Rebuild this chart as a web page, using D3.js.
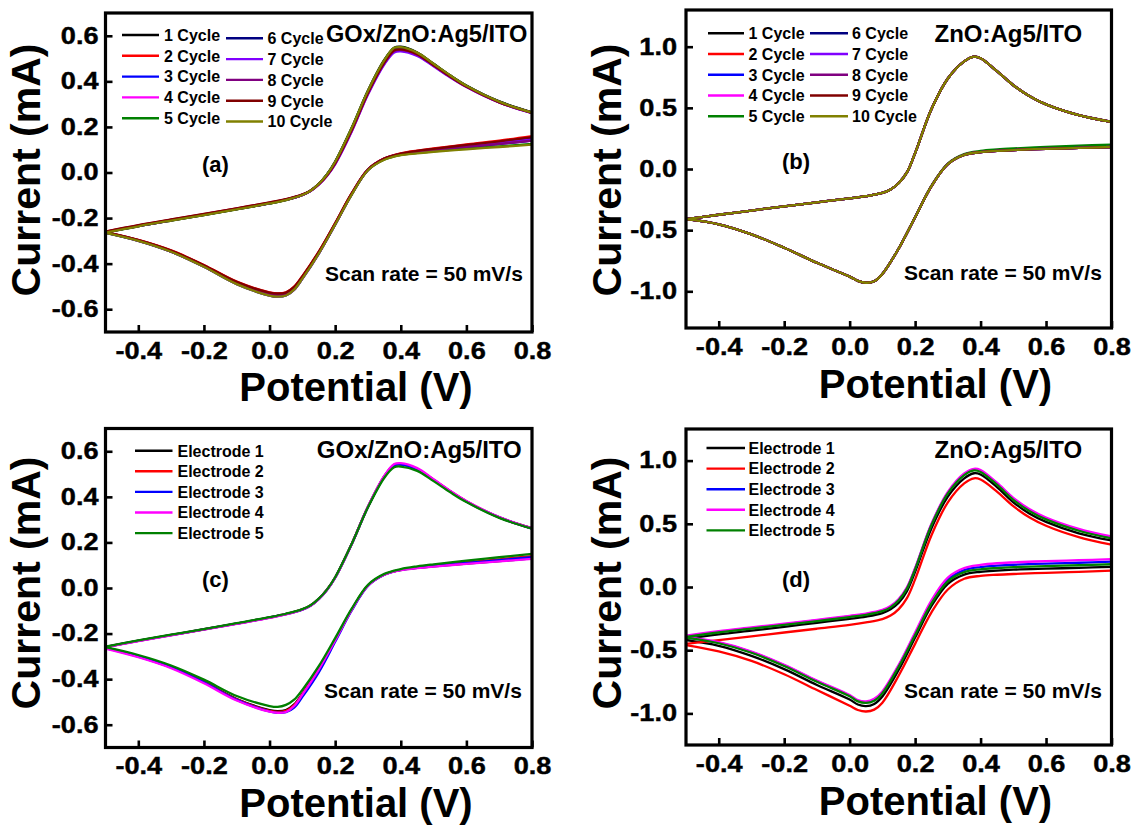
<!DOCTYPE html>
<html><head><meta charset="utf-8">
<script src="https://cdn.jsdelivr.net/npm/d3@7"></script>
<style>
body{margin:0;background:#fff;}
svg text{font-family:"Liberation Sans",Arial,sans-serif;font-weight:bold;fill:#000;}
</style></head><body>
<svg id="chart" width="1133" height="825"></svg>
<script>
// ---------------- DATA ----------------
const xTicks = [-0.4,-0.2,0.0,0.2,0.4,0.6,0.8];
const yTicksGOx = [-0.6,-0.4,-0.2,0.0,0.2,0.4,0.6];
const yTicksZnO = [-1.0,-0.5,0.0,0.5,1.0];

// potentials of the anodic (forward) and cathodic (reverse) scans, V
const potFwd = [-0.5,-0.4,-0.3,-0.2,-0.1,0,0.05,0.1,0.125,0.15,0.175,0.2,0.25,0.3,0.35,0.38,0.4,0.45,0.5,0.55,0.6,0.7,0.8];
const potRev = [0.8,0.7,0.6,0.5,0.45,0.4,0.35,0.3,0.25,0.2,0.15,0.1,0.075,0.05,0.025,0,-0.1,-0.2,-0.3,-0.4,-0.5];

const cycleNames = ["1 Cycle","2 Cycle","3 Cycle","4 Cycle","5 Cycle","6 Cycle","7 Cycle","8 Cycle","9 Cycle","10 Cycle"];
const cycleColors = ["#000000","#ff0000","#0000ff","#ff00ff","#008000","#000080","#8000ff","#800080","#800000","#808000"];
const electrodeNames = ["Electrode 1","Electrode 2","Electrode 3","Electrode 4","Electrode 5"];
const electrodeColors = ["#000000","#ff0000","#0000ff","#ff00ff","#008000"];

// (a) GOx/ZnO:Ag5/ITO, 10 cycles, current in mA
const aFwd = [
 [-0.262,-0.235,-0.210,-0.186,-0.161,-0.135,-0.120,-0.098,-0.080,-0.050,-0.008,0.048,0.195,0.360,0.495,0.548,0.552,0.527,0.477,0.427,0.382,0.312,0.264],
 [-0.260,-0.232,-0.207,-0.183,-0.158,-0.132,-0.118,-0.097,-0.080,-0.052,-0.014,0.038,0.180,0.345,0.478,0.530,0.535,0.515,0.468,0.420,0.376,0.308,0.262],
 [-0.262,-0.234,-0.209,-0.185,-0.160,-0.134,-0.119,-0.098,-0.080,-0.051,-0.010,0.044,0.190,0.355,0.488,0.540,0.545,0.522,0.473,0.424,0.379,0.310,0.262],
 [-0.263,-0.235,-0.210,-0.186,-0.161,-0.135,-0.120,-0.099,-0.081,-0.052,-0.012,0.042,0.187,0.352,0.485,0.536,0.540,0.519,0.471,0.422,0.378,0.309,0.261],
 [-0.264,-0.236,-0.211,-0.187,-0.162,-0.136,-0.121,-0.099,-0.080,-0.050,-0.009,0.046,0.193,0.358,0.492,0.546,0.550,0.525,0.476,0.426,0.381,0.311,0.263],
 [-0.263,-0.235,-0.210,-0.186,-0.161,-0.135,-0.120,-0.098,-0.080,-0.050,-0.010,0.045,0.191,0.356,0.490,0.544,0.548,0.524,0.475,0.425,0.380,0.311,0.263],
 [-0.261,-0.233,-0.208,-0.184,-0.159,-0.133,-0.119,-0.098,-0.081,-0.053,-0.015,0.036,0.178,0.342,0.475,0.527,0.532,0.512,0.466,0.418,0.375,0.307,0.261],
 [-0.262,-0.234,-0.209,-0.185,-0.160,-0.134,-0.119,-0.098,-0.081,-0.052,-0.013,0.040,0.184,0.348,0.481,0.533,0.538,0.517,0.470,0.421,0.377,0.308,0.262],
 [-0.259,-0.231,-0.206,-0.182,-0.157,-0.131,-0.117,-0.096,-0.079,-0.051,-0.012,0.041,0.185,0.350,0.483,0.536,0.540,0.519,0.471,0.422,0.377,0.309,0.262],
 [-0.264,-0.236,-0.211,-0.187,-0.162,-0.136,-0.121,-0.099,-0.080,-0.050,-0.009,0.047,0.194,0.359,0.493,0.547,0.550,0.526,0.477,0.427,0.381,0.311,0.263]
];
const aRev = [
 [0.150,0.133,0.118,0.102,0.093,0.082,0.061,0.013,-0.094,-0.224,-0.350,-0.458,-0.505,-0.530,-0.535,-0.530,-0.482,-0.408,-0.344,-0.297,-0.263],
 [0.160,0.140,0.123,0.106,0.096,0.084,0.062,0.014,-0.092,-0.222,-0.347,-0.455,-0.501,-0.526,-0.531,-0.526,-0.479,-0.406,-0.342,-0.296,-0.262],
 [0.145,0.129,0.115,0.100,0.091,0.081,0.060,0.012,-0.096,-0.227,-0.353,-0.462,-0.509,-0.534,-0.540,-0.535,-0.486,-0.411,-0.346,-0.299,-0.264],
 [0.140,0.126,0.113,0.099,0.090,0.080,0.059,0.011,-0.096,-0.227,-0.354,-0.463,-0.510,-0.535,-0.540,-0.536,-0.487,-0.412,-0.347,-0.299,-0.264],
 [0.125,0.115,0.105,0.093,0.086,0.077,0.057,0.010,-0.098,-0.229,-0.356,-0.466,-0.514,-0.540,-0.545,-0.540,-0.490,-0.414,-0.348,-0.300,-0.265],
 [0.140,0.126,0.113,0.099,0.090,0.080,0.059,0.011,-0.096,-0.228,-0.355,-0.464,-0.511,-0.536,-0.541,-0.536,-0.487,-0.412,-0.347,-0.299,-0.264],
 [0.145,0.130,0.116,0.101,0.092,0.081,0.060,0.012,-0.097,-0.229,-0.357,-0.467,-0.515,-0.540,-0.545,-0.540,-0.490,-0.414,-0.348,-0.300,-0.264],
 [0.140,0.126,0.113,0.099,0.090,0.080,0.059,0.011,-0.095,-0.226,-0.352,-0.460,-0.507,-0.532,-0.537,-0.532,-0.484,-0.409,-0.345,-0.298,-0.263],
 [0.155,0.137,0.121,0.104,0.095,0.083,0.061,0.013,-0.093,-0.223,-0.348,-0.456,-0.502,-0.527,-0.531,-0.527,-0.480,-0.407,-0.343,-0.297,-0.262],
 [0.122,0.112,0.102,0.091,0.084,0.076,0.056,0.010,-0.098,-0.229,-0.356,-0.466,-0.514,-0.540,-0.545,-0.540,-0.490,-0.414,-0.348,-0.300,-0.265]
];

// (b) ZnO:Ag5/ITO, 10 cycles (practically overlapping)
const bFwd = [-0.410,-0.374,-0.340,-0.305,-0.272,-0.240,-0.222,-0.196,-0.168,-0.115,-0.028,0.130,0.490,0.740,0.880,0.918,0.905,0.800,0.685,0.595,0.528,0.440,0.385];
const bRev = [0.180,0.172,0.165,0.155,0.148,0.138,0.115,0.040,-0.140,-0.395,-0.650,-0.858,-0.918,-0.930,-0.915,-0.880,-0.767,-0.644,-0.534,-0.452,-0.410];
const bRevCycle5 = [0.200,0.190,0.180,0.168,0.160,0.148,0.122,0.045,-0.136,-0.392,-0.648,-0.857,-0.918,-0.930,-0.915,-0.880,-0.767,-0.644,-0.534,-0.452,-0.410];
const bFwdSets = [bFwd,bFwd,bFwd,bFwd,bFwd,bFwd,bFwd,bFwd,bFwd,bFwd];
const bRevSets = [bRev,bRev,bRev,bRev,bRevCycle5,bRev,bRev,bRev,bRev,bRev];

// (c) GOx/ZnO:Ag5/ITO, 5 electrodes
const cFwd = [
 [-0.258,-0.231,-0.206,-0.181,-0.155,-0.129,-0.114,-0.094,-0.077,-0.048,-0.008,0.046,0.192,0.356,0.490,0.540,0.543,0.522,0.474,0.425,0.380,0.310,0.262],
 [-0.259,-0.232,-0.207,-0.182,-0.156,-0.130,-0.115,-0.094,-0.077,-0.048,-0.008,0.046,0.192,0.357,0.491,0.541,0.544,0.523,0.475,0.426,0.381,0.310,0.262],
 [-0.259,-0.232,-0.207,-0.182,-0.156,-0.130,-0.115,-0.095,-0.078,-0.049,-0.009,0.045,0.191,0.356,0.490,0.539,0.542,0.521,0.474,0.425,0.380,0.310,0.261],
 [-0.260,-0.233,-0.208,-0.183,-0.157,-0.131,-0.116,-0.095,-0.078,-0.049,-0.009,0.045,0.191,0.357,0.493,0.544,0.548,0.526,0.477,0.427,0.382,0.311,0.262],
 [-0.257,-0.230,-0.205,-0.180,-0.154,-0.128,-0.113,-0.093,-0.076,-0.047,-0.007,0.047,0.192,0.354,0.484,0.530,0.533,0.514,0.469,0.421,0.377,0.308,0.260]
];
const cRev = [
 [0.130,0.118,0.107,0.095,0.088,0.079,0.059,0.011,-0.096,-0.228,-0.355,-0.464,-0.511,-0.536,-0.541,-0.536,-0.487,-0.412,-0.347,-0.299,-0.262],
 [0.140,0.126,0.113,0.099,0.090,0.080,0.059,0.011,-0.096,-0.228,-0.356,-0.466,-0.514,-0.539,-0.544,-0.539,-0.489,-0.413,-0.348,-0.300,-0.263],
 [0.135,0.122,0.110,0.097,0.089,0.079,0.058,0.009,-0.100,-0.236,-0.370,-0.478,-0.525,-0.545,-0.548,-0.542,-0.491,-0.414,-0.349,-0.301,-0.264],
 [0.128,0.117,0.106,0.094,0.087,0.078,0.058,0.010,-0.097,-0.230,-0.358,-0.468,-0.518,-0.544,-0.548,-0.543,-0.494,-0.418,-0.352,-0.304,-0.266],
 [0.150,0.135,0.120,0.104,0.095,0.083,0.062,0.014,-0.092,-0.220,-0.343,-0.447,-0.490,-0.513,-0.522,-0.518,-0.474,-0.402,-0.340,-0.294,-0.260]
];

// (d) ZnO:Ag5/ITO, 5 electrodes
const dFwd = [
 [-0.410,-0.375,-0.345,-0.315,-0.283,-0.252,-0.234,-0.206,-0.176,-0.125,-0.033,0.120,0.465,0.715,0.860,0.900,0.890,0.790,0.670,0.580,0.515,0.425,0.368],
 [-0.450,-0.420,-0.390,-0.360,-0.330,-0.300,-0.280,-0.254,-0.226,-0.175,-0.088,0.060,0.410,0.670,0.820,0.860,0.850,0.755,0.640,0.550,0.485,0.395,0.335],
 [-0.390,-0.355,-0.325,-0.295,-0.265,-0.233,-0.215,-0.186,-0.156,-0.100,-0.008,0.145,0.495,0.745,0.890,0.928,0.918,0.818,0.698,0.607,0.542,0.452,0.390],
 [-0.385,-0.350,-0.320,-0.290,-0.260,-0.228,-0.210,-0.181,-0.151,-0.095,-0.003,0.150,0.500,0.752,0.898,0.935,0.925,0.825,0.705,0.615,0.550,0.460,0.400],
 [-0.395,-0.360,-0.330,-0.300,-0.270,-0.238,-0.220,-0.191,-0.161,-0.105,-0.013,0.140,0.490,0.740,0.885,0.922,0.910,0.810,0.690,0.600,0.535,0.445,0.385]
];
const dRev = [
 [0.160,0.152,0.145,0.137,0.130,0.120,0.098,0.025,-0.150,-0.400,-0.655,-0.866,-0.925,-0.942,-0.930,-0.890,-0.775,-0.650,-0.545,-0.465,-0.420],
 [0.130,0.120,0.112,0.103,0.097,0.088,0.065,-0.020,-0.200,-0.450,-0.700,-0.915,-0.970,-0.985,-0.973,-0.940,-0.815,-0.690,-0.585,-0.510,-0.460],
 [0.200,0.192,0.185,0.176,0.169,0.158,0.134,0.060,-0.118,-0.370,-0.622,-0.834,-0.893,-0.912,-0.900,-0.860,-0.745,-0.620,-0.515,-0.441,-0.398],
 [0.220,0.212,0.205,0.195,0.188,0.175,0.150,0.075,-0.105,-0.360,-0.615,-0.826,-0.885,-0.905,-0.895,-0.855,-0.740,-0.615,-0.510,-0.437,-0.395],
 [0.180,0.172,0.165,0.157,0.150,0.140,0.118,0.045,-0.130,-0.380,-0.630,-0.841,-0.900,-0.917,-0.905,-0.865,-0.750,-0.625,-0.520,-0.445,-0.400]
];

// ---------------- DRAWING ----------------
const svg = d3.select("#chart");
svg.append("rect").attr("width",1133).attr("height",825).attr("fill","#fff");

const panels = [
 {key:"a", L:105.5, R:532, T:13, B:332, ydom:[-0.7,0.7], yticks:yTicksGOx, fwd:aFwd, rev:aRev,
  names:cycleNames, colors:cycleColors, title:"GOx/ZnO:Ag5/ITO",
  legend:{cols:[{lx:[122,159], tx:164, y0:35},{lx:[226,263], tx:267.5, y0:38.3}], dy:20.8},
  titlePos:[326,41.7,23.6], tag:[202,172], scan:[325,281], ytitle:[40,170], xtitle:[356,401], ypad:7},
 {key:"b", L:686, R:1111.5, T:10, B:328, ydom:[-1.3,1.3], yticks:yTicksZnO, fwd:bFwdSets, rev:bRevSets,
  names:cycleNames, colors:cycleColors, title:"ZnO:Ag5/ITO",
  legend:{cols:[{lx:[708,744], tx:748.5, y0:33.3},{lx:[810,848], tx:852, y0:33.3}], dy:20.75},
  titlePos:[934.5,41.7,24], tag:[782,169], scan:[904,280], ytitle:[620.5,170], xtitle:[935.5,398], ypad:9},
 {key:"c", L:105.5, R:532, T:428.5, B:747.5, ydom:[-0.7,0.7], yticks:yTicksGOx, fwd:cFwd, rev:cRev,
  names:electrodeNames, colors:electrodeColors, title:"GOx/ZnO:Ag5/ITO",
  legend:{cols:[{lx:[135,172.5], tx:177.5, y0:450.7}], dy:20.6},
  titlePos:[316.8,458,24], tag:[202,587], scan:[324,698], ytitle:[40,583], xtitle:[356,817], ypad:7},
 {key:"d", L:686, R:1111.5, T:429, B:745, ydom:[-1.25,1.25], yticks:yTicksZnO, fwd:dFwd, rev:dRev,
  names:electrodeNames, colors:electrodeColors, title:"ZnO:Ag5/ITO",
  legend:{cols:[{lx:[706.5,745], tx:748.5, y0:448}], dy:20.6},
  titlePos:[934.5,458,24], tag:[782,587], scan:[904,698], ytitle:[620.5,583], xtitle:[935.5,815], ypad:9}
];

const fmt = d => (Math.abs(d) < 1e-9 ? 0 : d).toFixed(1);
const TICK_SX = 1.18;

panels.forEach(p => {
  const x = d3.scaleLinear().domain([-0.5,0.8]).range([p.L,p.R]);
  const y = d3.scaleLinear().domain(p.ydom).range([p.B,p.T]);
  const g = svg.append("g");
  const clipId = "clip-"+p.key;
  g.append("clipPath").attr("id",clipId).append("rect")
    .attr("x",p.L).attr("y",p.T).attr("width",p.R-p.L).attr("height",p.B-p.T);

  const line = d3.line().x(d=>x(d[0])).y(d=>y(d[1])).curve(d3.curveCatmullRom.alpha(0.5));
  const curves = g.append("g").attr("clip-path","url(#"+clipId+")");
  p.fwd.forEach((fv,i) => {
    const fpts = potFwd.map((v,j)=>[v,fv[j]]);
    const rpts = potRev.map((v,j)=>[v,p.rev[i][j]]);
    [fpts,rpts].forEach(pts => {
      curves.append("path").attr("d",line(pts)).attr("fill","none")
        .attr("stroke",p.colors[i]).attr("stroke-width",2.3).attr("stroke-linejoin","round");
    });
  });

  // axes
  const xa = d3.axisBottom(x).tickValues(xTicks).tickFormat(fmt).tickSize(-7).tickPadding(10.5);
  const ya = d3.axisLeft(y).tickValues(p.yticks).tickFormat(fmt).tickSize(-7).tickPadding(p.ypad);
  const gx = g.append("g").attr("transform","translate(0,"+p.B+")").call(xa);
  const gy = g.append("g").attr("transform","translate("+p.L+",0)").call(ya);
  [gx,gy].forEach(a => {
    a.select(".domain").remove();
    a.selectAll(".tick line").attr("stroke","#000").attr("stroke-width",2.6);
    a.selectAll(".tick text").attr("font-size",23).attr("font-family",'"Liberation Sans",Arial,sans-serif')
      .attr("font-weight","bold").attr("fill","#000")
      .attr("stroke","#000").attr("stroke-width",0.4)
      .attr("transform","scale("+TICK_SX+",1)");
  });
  gy.selectAll(".tick text").attr("x", -p.ypad/TICK_SX);

  // frame
  g.append("rect").attr("x",p.L).attr("y",p.T).attr("width",p.R-p.L).attr("height",p.B-p.T)
    .attr("fill","none").attr("stroke","#000").attr("stroke-width",3.2);

  // legend
  p.names.forEach((nm,i) => {
    const colIdx = p.legend.cols.length > 1 ? Math.floor(i/5) : 0;
    const row = p.legend.cols.length > 1 ? i%5 : i;
    const c = p.legend.cols[colIdx];
    const yy = c.y0 + row*p.legend.dy;
    g.append("line").attr("x1",c.lx[0]).attr("x2",c.lx[1]).attr("y1",yy).attr("y2",yy)
      .attr("stroke",p.colors[i]).attr("stroke-width",2.4);
    g.append("text").attr("x",c.tx).attr("y",yy+5.8).attr("font-size",16).text(nm);
  });

  g.append("text").attr("x",p.titlePos[0]).attr("y",p.titlePos[1]).attr("font-size",p.titlePos[2]).text(p.title);
  g.append("text").attr("x",p.tag[0]).attr("y",p.tag[1]).attr("font-size",22).text("("+p.key+")");
  g.append("text").attr("x",p.scan[0]).attr("y",p.scan[1]).attr("font-size",21).text("Scan rate = 50 mV/s");
  g.append("text").attr("transform","translate("+p.ytitle[0]+","+p.ytitle[1]+") rotate(-90)")
    .attr("text-anchor","middle").attr("font-size",41).text("Current (mA)");
  g.append("text").attr("x",p.xtitle[0]).attr("y",p.xtitle[1]).attr("text-anchor","middle")
    .attr("font-size",40).text("Potential (V)");
});
</script></body></html>
